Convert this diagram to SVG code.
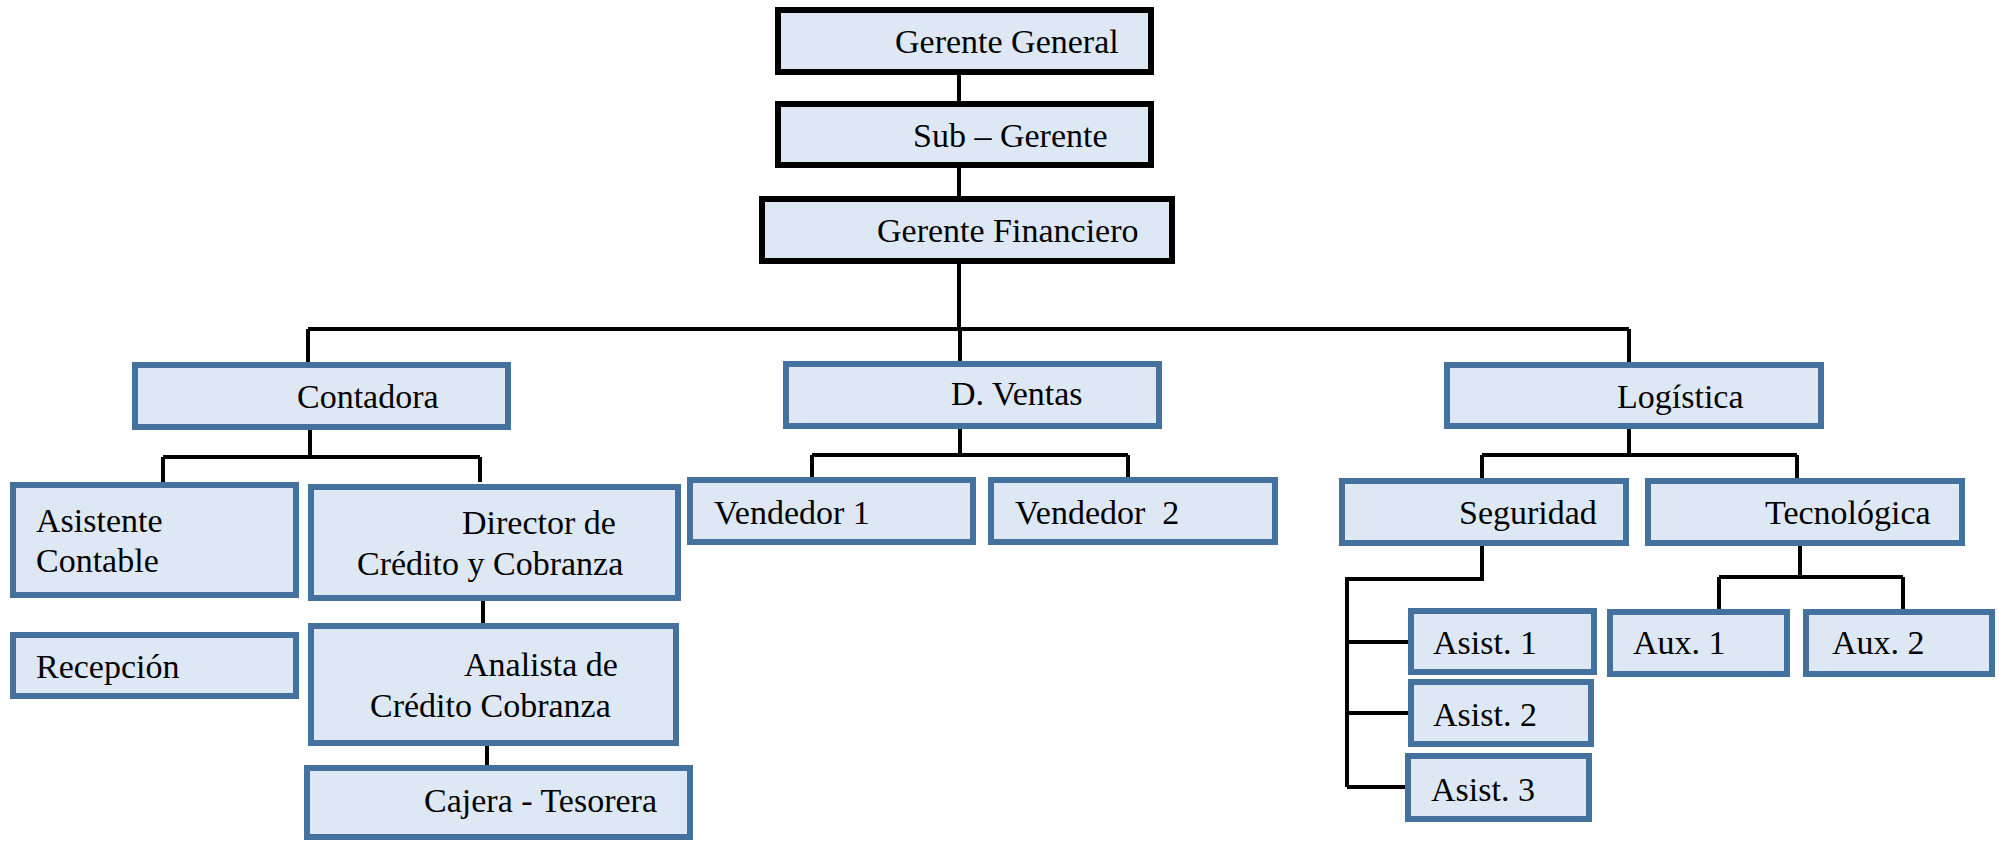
<svg xmlns="http://www.w3.org/2000/svg" width="1999" height="841" viewBox="0 0 1999 841">
<style>
.b{fill:#dde8f4;stroke:#44719d;stroke-width:6}
.k{fill:#dde8f4;stroke:#000;stroke-width:6}
text{font-family:'Liberation Serif','DejaVu Serif',serif;font-size:34px;fill:#000}
.c{stroke:#000;stroke-width:4;fill:none}
</style>
<rect width="1999" height="841" fill="#fff"/>
<g id="connectors">
<path class="c" d="M959 75V101M959 168V196M959 264V329M308 329H1629M308 329V363M960 329V362M1629 329V363"/>
<path class="c" d="M310 430V457M163 457H480M163 457V482M480 457V482"/>
<path class="c" d="M483 601V624M487 746V766"/>
<path class="c" d="M960 428V455M812 455H1128M812 455V478M1128 455V478"/>
<path class="c" d="M1629 429V455M1482 455H1797M1482 455V479M1797 455V479"/>
<path class="c" d="M1482 546V579H1347V787M1347 642H1409M1347 713H1409M1347 787H1409"/>
<path class="c" d="M1800 546V577M1719 577H1903M1719 577V610M1903 577V610"/>
</g>
<g id="gerente-general"><rect class="k" x="778" y="10" width="373" height="62"/><text x="895" y="53">Gerente General</text></g>
<g id="sub-gerente"><rect class="k" x="778" y="104" width="373" height="61"/><text x="913" y="147">Sub – Gerente</text></g>
<g id="gerente-financiero"><rect class="k" x="762" y="199" width="410" height="62"/><text x="877" y="242">Gerente Financiero</text></g>
<g id="contadora"><rect class="b" x="135" y="365" width="373" height="62"/><text x="297" y="408">Contadora</text></g>
<g id="d-ventas"><rect class="b" x="786" y="364" width="373" height="62"/><text x="951" y="405">D. Ventas</text></g>
<g id="logistica"><rect class="b" x="1447" y="365" width="374" height="61"/><text x="1617" y="408">Logística</text></g>
<g id="asistente-contable"><rect class="b" x="13" y="485" width="283" height="110"/><text x="36" y="532">Asistente</text><text x="36" y="572">Contable</text></g>
<g id="director"><rect class="b" x="311" y="487" width="367" height="111"/><text x="462" y="534">Director de</text><text x="357" y="575">Crédito y Cobranza</text></g>
<g id="recepcion"><rect class="b" x="13" y="635" width="283" height="61"/><text x="36" y="678">Recepción</text></g>
<g id="analista"><rect class="b" x="311" y="626" width="365" height="117"/><text x="464" y="676">Analista de</text><text x="370" y="717">Crédito Cobranza</text></g>
<g id="cajera"><rect class="b" x="307" y="768" width="383" height="69"/><text x="424" y="812">Cajera - Tesorera</text></g>
<g id="vendedor-1"><rect class="b" x="690" y="480" width="283" height="62"/><text x="714" y="524">Vendedor 1</text></g>
<g id="vendedor-2"><rect class="b" x="991" y="480" width="284" height="62"/><text x="1015" y="524" xml:space="preserve">Vendedor  2</text></g>
<g id="seguridad"><rect class="b" x="1342" y="481" width="284" height="62"/><text x="1459" y="524">Seguridad</text></g>
<g id="tecnologica"><rect class="b" x="1648" y="481" width="314" height="62"/><text x="1765" y="524">Tecnológica</text></g>
<g id="asist-1"><rect class="b" x="1411" y="611" width="183" height="61"/><text x="1433" y="654">Asist. 1</text></g>
<g id="asist-2"><rect class="b" x="1411" y="682" width="180" height="62"/><text x="1433" y="726">Asist. 2</text></g>
<g id="asist-3"><rect class="b" x="1408" y="756" width="181" height="63"/><text x="1431" y="801">Asist. 3</text></g>
<g id="aux-1"><rect class="b" x="1610" y="612" width="177" height="62"/><text x="1633" y="654">Aux. 1</text></g>
<g id="aux-2"><rect class="b" x="1806" y="612" width="186" height="62"/><text x="1832" y="654">Aux. 2</text></g>
</svg>
